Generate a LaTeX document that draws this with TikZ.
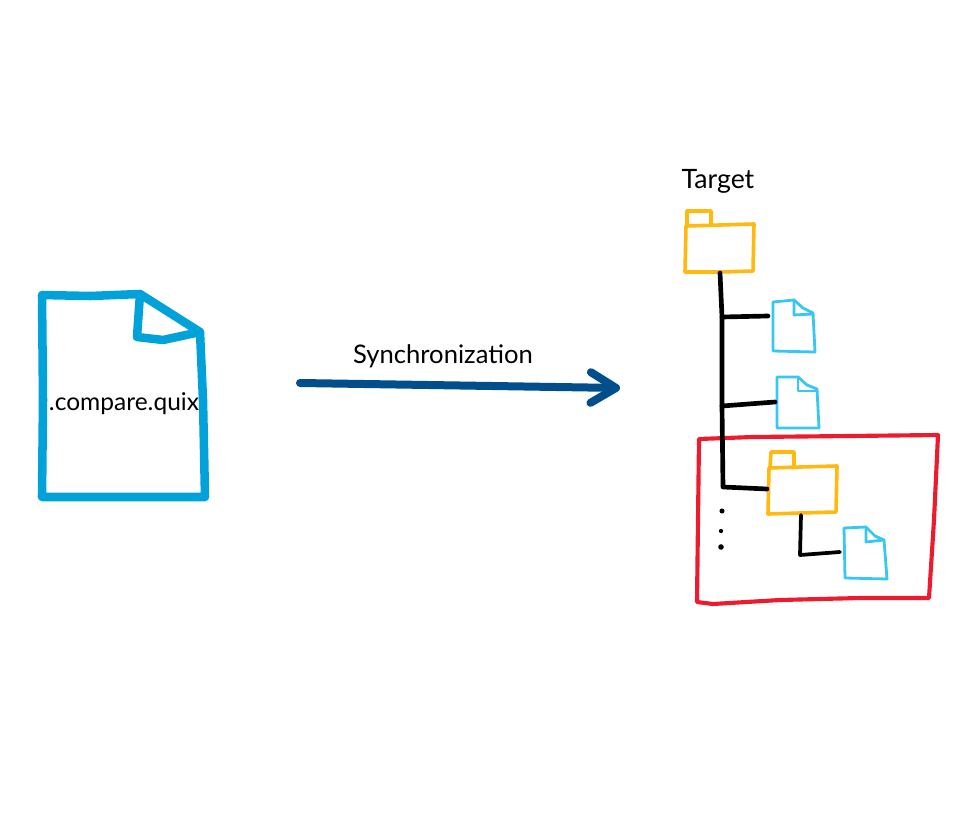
\documentclass[tikz,border=0pt]{standalone}
\usepackage{fontspec}
\setmainfont{Lato}
\usetikzlibrary{arrows.meta}
\definecolor{docblue}{HTML}{00A2D9}
\definecolor{syncblue}{HTML}{004E8C}
\definecolor{fileblue}{HTML}{38C6F4}
\definecolor{foldery}{HTML}{FFB90F}
\definecolor{boxred}{HTML}{EC1C2E}
\begin{document}
\begin{tikzpicture}[x=0.75pt, y=-0.75pt, line cap=round, line join=round,
    lab/.style={inner sep=0pt, font=\fontsize{19.2pt}{22pt}\selectfont},
    doc/.style={draw=docblue, line width=6.4pt},
    sync/.style={draw=syncblue, line width=6pt, -{Straight Barb[round, length=19pt, width=23pt]}},
    file/.style={draw=fileblue, line width=2.1pt},
    folder/.style={draw=foldery, line width=2.7pt},
    stem/.style={draw=black, line width=3.5pt},
    thinstem/.style={draw=black, line width=2.8pt},
    redbox/.style={draw=boxred, line width=3.1pt},
    dot/.style={circle, fill=black, inner sep=0pt, minimum size=3.8pt}]
  \useasboundingbox (0,0) rectangle (978,824);
  % left document
  \draw[doc] (42,295) -- (90,296) -- (140,294) -- (170,313) -- (200,332) -- (203,400) -- (205,497) -- (120,497) -- (42,497) -- (43,400) -- cycle;
  \draw[doc] (140,294) -- (137,337) -- (163,340) -- (200,332);
  \node[lab, font=\fontsize{18.4pt}{22pt}\selectfont] (quix) at (124,404) {.compare.quix};
  % sync arrow
  \coordinate (syncL) at (300,383);
  \coordinate (syncR) at (620,388);
  \draw[sync] (syncL) -- (syncR);
  \node[lab] (synclab) at (443,356) {Synchronization};
  % red box, under the stems
  \draw[redbox] (699,439) -- (753,437) -- (850,436) -- (938,435) -- (934,520) -- (929,598) -- (860,598) -- (780,600) -- (713,604) -- (697,602) -- (698,520) -- cycle;
  % target folder
  \node[lab, font=\fontsize{20pt}{22pt}\selectfont] (target) at (718,181) {Target};
  \draw[folder] (687,225) -- (687,211) -- (711,211) -- (711,225);
  \draw[folder] (686,226) -- (720,225) -- (754,224) -- (753,271) -- (720,272) -- (685,272) -- cycle;
  \coordinate (top) at (720,273);
  % files under the target
  \draw[file] (773,302) -- (794,300) -- (803,308) -- (813,313) -- (815,352) -- (773,351) -- cycle;
  \draw[file] (794,300) -- (794,315) -- (813,314);
  \coordinate (fileA) at (768,316);
  \draw[file] (777,377) -- (798,377) -- (807,385) -- (817,389) -- (819,428) -- (777,428) -- cycle;
  \draw[file] (798,377) -- (798,391) -- (817,391);
  \coordinate (fileB) at (775,402);
  % sub folder
  \draw[folder] (770,467) -- (771,452) -- (794,452) -- (794,467);
  \draw[folder] (769,468) -- (800,467) -- (837,466) -- (836,512) -- (800,513) -- (768,514) -- cycle;
  \coordinate (subIn) at (767,489);
  \coordinate (subOut) at (801,515);
  \draw[file] (844,528) -- (866,527) -- (875,536) -- (884,540) -- (887,579) -- (845,578) -- cycle;
  \draw[file] (866,527) -- (866,542) -- (884,540);
  \coordinate (fileC) at (840,552);
  % stems
  \coordinate (joinA) at (722,317);
  \coordinate (joinB) at (722,406);
  \coordinate (elbow) at (723,487);
  \coordinate (elbowC) at (800,555);
  \draw[stem] (top) -- (joinA) -- (joinB) -- (elbow) -- (subIn);
  \draw[stem] (joinA) -- (fileA);
  \draw[stem] (joinB) -- (fileB);
  \draw[thinstem] (subOut) -- (elbowC) -- (fileC);
  \node[dot] (dotA) at (722,511) {};
  \node[dot, minimum size=3.2pt] (dotB) at (721,531) {};
  \node[dot, minimum size=4.2pt] (dotC) at (721,547) {};
\end{tikzpicture}
\end{document}
